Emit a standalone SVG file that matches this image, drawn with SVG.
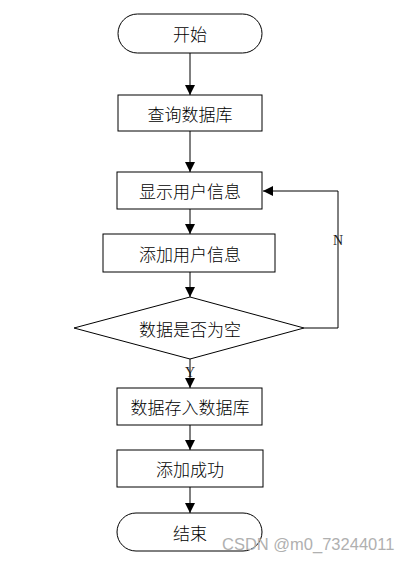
<svg xmlns="http://www.w3.org/2000/svg" width="412" height="563" viewBox="0 0 412 563">
<style>
.n{fill:#fff;stroke:#000;stroke-width:1}
.t{font-family:"Noto Sans CJK SC","Noto Sans",sans-serif;font-size:17px;font-weight:300;fill:#000;text-anchor:middle;dominant-baseline:central}
.c{fill:none;stroke:#000;stroke-width:1}
.l{font-family:"Liberation Serif",serif;font-size:14px;fill:#1a1a1a;text-anchor:middle;dominant-baseline:central}
</style>
<defs>
<marker id="a" viewBox="0 0 10 10" refX="10" refY="5" markerWidth="10" markerHeight="10" markerUnits="userSpaceOnUse" orient="auto">
<path d="M0,0L10,5L0,10z" fill="#000"/>
</marker>
</defs>
<rect width="412" height="563" fill="#fff"/>
<g id="connectors">
<line class="c" x1="190" y1="53" x2="190" y2="95" marker-end="url(#a)"/>
<line class="c" x1="190" y1="131" x2="190" y2="172" marker-end="url(#a)"/>
<line class="c" x1="190" y1="209" x2="190" y2="234" marker-end="url(#a)"/>
<line class="c" x1="190" y1="272" x2="190" y2="297" stroke-width="2" marker-end="url(#a)"/>
<line class="c" x1="190" y1="359" x2="190" y2="388" marker-end="url(#a)"/>
<line class="c" x1="190" y1="425" x2="190" y2="450" marker-end="url(#a)"/>
<line class="c" x1="190" y1="487" x2="190" y2="513" marker-end="url(#a)"/>
<polyline class="c" points="304,328 338,328 338,191 263,191" marker-end="url(#a)"/>
<text class="l" x="338" y="240">N</text>
<text class="l" x="190" y="372">Y</text>
</g>
<g id="start"><rect class="n" x="118" y="14" width="144" height="39" rx="19.5"/><text class="t" x="190" y="33">开始</text></g>
<g id="query"><rect class="n" x="118" y="95" width="144" height="36"/><text class="t" x="190" y="113">查询数据库</text></g>
<g id="show"><rect class="n" x="117" y="172" width="145" height="37"/><text class="t" x="190" y="190.5">显示用户信息</text></g>
<g id="add"><rect class="n" x="103" y="234" width="172" height="38"/><text class="t" x="190" y="253">添加用户信息</text></g>
<g id="check"><polygon class="n" points="190,297 304,328 190,359 74,328"/><text class="t" x="190" y="328">数据是否为空</text></g>
<g id="save"><rect class="n" x="117" y="388" width="145" height="37"/><text class="t" x="190" y="406.5">数据存入数据库</text></g>
<g id="success"><rect class="n" x="117" y="450" width="146" height="37"/><text class="t" x="190" y="468.5">添加成功</text></g>
<g id="end"><rect class="n" x="117" y="513" width="145" height="38" rx="19"/><text class="t" x="190" y="532">结束</text></g>
<text x="222" y="550" font-family="Liberation Sans,Arial,sans-serif" font-size="16.5" fill="#b0b0b0">CSDN @m0_73244011</text>
</svg>
